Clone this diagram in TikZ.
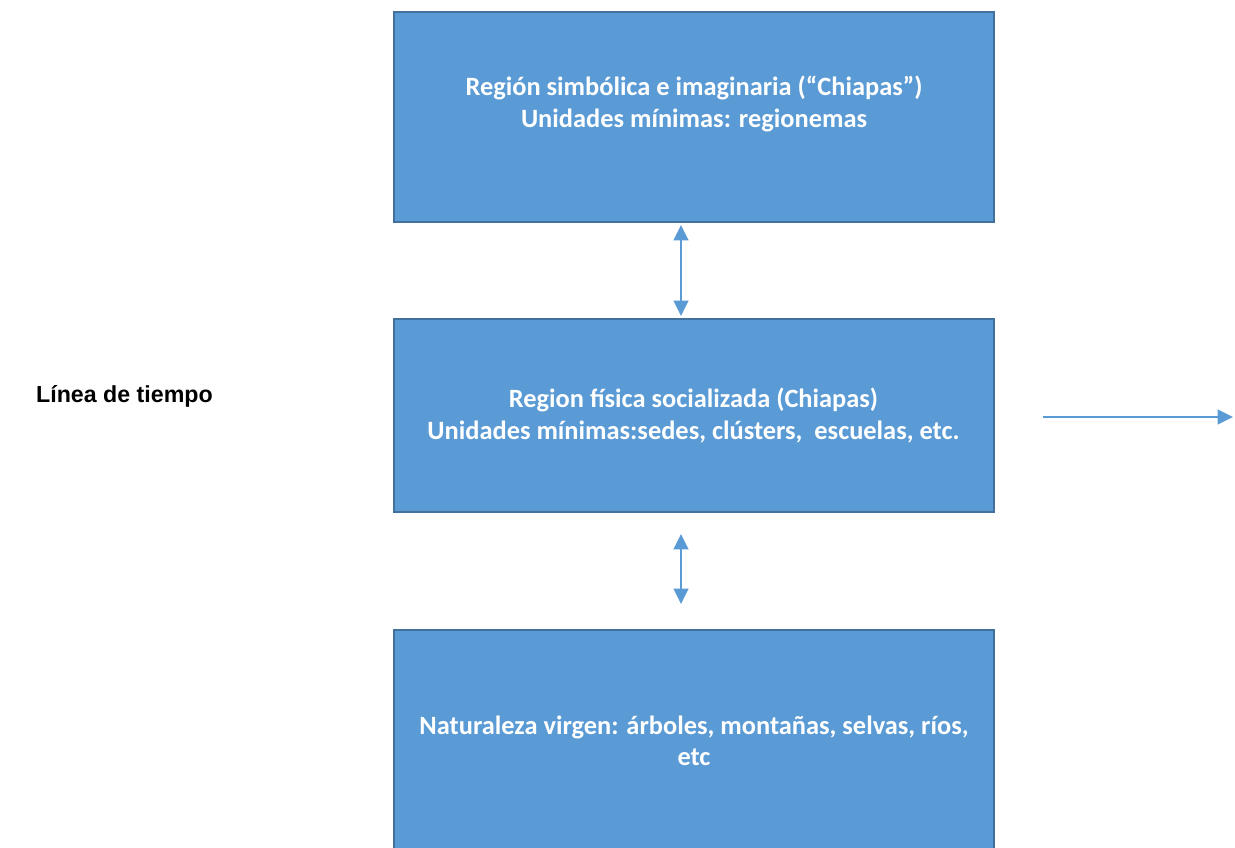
\documentclass[tikz,border=0pt]{standalone}
\usepackage{fontspec}
\setmainfont{Carlito}
\newfontfamily\arialfont{Liberation Sans}
\usetikzlibrary{arrows.meta}

\definecolor{cajaazul}{HTML}{5B9BD5}
\definecolor{bordeazul}{HTML}{41719C}

\tikzset{
  caja/.style={draw=bordeazul, fill=cajaazul, line width=1.5pt, inner sep=0pt,
    minimum width=450pt},
  textocaja/.style={text=white, align=center, font=\bfseries\fontsize{19.8}{23.5}\selectfont},
  flecha/.style={draw=cajaazul, line width=1.75pt,
    -{Triangle[length=11.5pt,width=11pt]}},
  dobleflecha/.style={flecha, {Triangle[length=11.5pt,width=11pt]}-{Triangle[length=11.5pt,width=11pt]}}
}

\begin{document}
\begin{tikzpicture}[x=0.75pt, y=-0.75pt]

\useasboundingbox (0,0) rectangle (1235,848);
\clip (0,0) rectangle (1235,848);

% cajas
\node[caja, minimum height=157.5pt] (simbolica) at (694,117) {};
\node[textocaja] (simbolicaTxt) at (694,104) {Región simbólica e imaginaria (“Chiapas”)\\Unidades mínimas: regionemas};

\node[caja, minimum height=144.75pt, textocaja] (fisica) at (693.5,415.5)
  {Region física socializada (Chiapas)\\Unidades mínimas:sedes, clústers,\ \ escuelas, etc.};

\node[caja, minimum height=166.5pt, textocaja] (naturaleza) at (694,741)
  {Naturaleza virgen: árboles, montañas, selvas, ríos,\\etc};

% flechas
\draw[dobleflecha, shorten <=1.5pt, shorten >=1.5pt] (simbolica.south -| 681,0) -- (fisica.north -| 681,0);
\draw[dobleflecha, shorten <=15.75pt, shorten >=18.75pt] (fisica.south -| 681,0) -- (naturaleza.north -| 681,0);

% linea de tiempo
\node[font=\arialfont\bfseries\fontsize{17.4}{20}\selectfont] (tiempo) at (124.5,396) {Línea de tiempo};
\coordinate (tiempoIni) at (1043,417);
\coordinate (tiempoFin) at (1233,417);
\draw[flecha] (tiempoIni) -- (tiempoFin);

\end{tikzpicture}
\end{document}
